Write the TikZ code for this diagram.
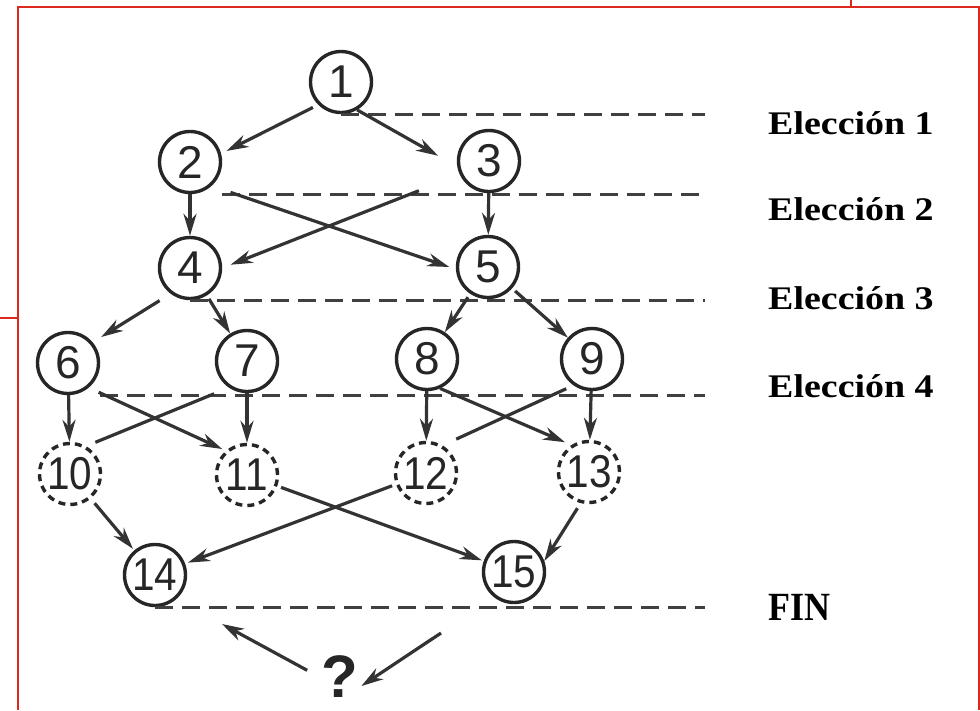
\documentclass[tikz,border=0pt]{standalone}
\usepackage{graphicx}
\usepackage{fontspec}
\setmainfont{Liberation Serif}
\newfontfamily\digitfont{Liberation Sans}
\newfontfamily\pairfont[FakeStretch=0.88]{Liberation Sans}
\newfontfamily\choicefont[FakeStretch=1.15]{Liberation Serif}
\newfontfamily\endfont[FakeStretch=0.9]{Liberation Serif}
\usetikzlibrary{positioning,calc,arrows.meta}
\definecolor{slidered}{RGB}{222,40,30}

\begin{document}
\begin{tikzpicture}[x=1pt, y=-1pt,
    >={Stealth[length=22pt, width=13pt, inset=7pt]},
    stage/.style={draw=black!85, circle, line width=3.4pt, minimum size=61pt, inner sep=0pt,
        text=black!85, font=\digitfont\fontsize{46}{46}\selectfont},
    pair/.style={font=\pairfont\fontsize{46}{46}\selectfont},
    future/.style={stage, pair, dash pattern=on 7pt off 5pt},
    link/.style={color=black!80, line width=3.2pt},
    rung/.style={draw=black!75, line width=3.4pt, dash pattern=on 18pt off 9pt},
    choice/.style={anchor=west, inner sep=0pt, text=black, font=\choicefont\bfseries\fontsize{33}{33}\selectfont},
    redline/.style={draw=slidered, line width=1.8pt}]

        \useasboundingbox (0,0) rectangle (980,710);

        %slide frame
        \draw[redline] (18,710) -- (18,7) -- (979,7) -- (979,710);
        \draw[redline] (0,318) -- (18,318);
        \draw[redline] (851,0) -- (851,7);

        %first choice
        \node[stage] (n1) at (341,82) {1};
        \node[stage] (n2) at (190,162) {2};
        \node[stage] (n3) at (489,161) {3};

        %second choice
        \node[stage] (n4) at ($(n2)+(0,106)$) {4};
        \node[stage] (n5) at (488,267) {5};

        %third choice
        \node[stage] (n6) at (68,363) {6};
        \node[stage] (n7) at (247,361) {7};
        \node[stage] (n8) at (427,359) {8};
        \node[stage] (n9) at (592,359) {9};

        %fourth choice, not reached yet
        \node[future] (n10) at (70,474) {10};
        \node[future] (n11) at (247,475) {11};
        \node[future] (n12) at (426,473) {12};
        \node[future] (n13) at (589,472) {13};

        %end
        \node[stage, pair] (n14) at (155,575) {14};
        \node[stage, pair] (n15) at (514,572) {15};
        \node[font=\digitfont\bfseries\fontsize{60}{60}\selectfont, text=black!85, inner sep=2pt] (q) at (340,677) {?};
        \coordinate (qa) at (222,624);
        \coordinate (qb) at (441,633);

        %levels
        \coordinate (rim) at (705,0);
        \draw[rung] (n1.south) -- (n1.south -| rim);
        \draw[rung] (n2.south -| n2.east) -- (n2.south -| rim);
        \draw[rung] (n4.south) -- (n4.south -| rim);
        \draw[rung] (n6.south -| n6.east) -- (n6.south -| rim);
        \draw[rung] (n14.south) -- (n14.south -| rim);

        \node[choice] (c1) at (768,123) {Elección 1};
        \node[choice] (c2) at (768,209) {Elección 2};
        \node[choice] (c3) at (768,298) {Elección 3};
        \node[choice] (c4) at (768,386) {Elección 4};
        \node[choice, font=\endfont\bfseries\fontsize{40}{40}\selectfont] (fin) at (768,607) {FIN};

        \path[link, ->]
            %from 1
            (n1.225) edge[shorten <=6pt, shorten >=6pt] (n2.15)
            (n1.-60) edge[shorten >=22pt] (n3.190)

            %from 2 and 3
            (n2) edge (n4)
            (n3) edge (n5)
            (n2.-48) edge[shorten <=20pt, shorten >=7pt] (n5.184)
            (n3.205) edge[shorten <=44pt, shorten >=9pt] (n4.east)

            %from 4 and 5
            (n4.233) edge[shorten <=13pt, shorten >=10pt] (n6.40)
            (n4) edge[shorten <=4pt] (n7)
            (n5) edge[shorten <=4pt] (n8)
            (n5) edge[shorten <=4pt] (n9)

            %from 6 to 9
            (n6) edge (n10)
            (n7) edge (n11)
            (n8) edge (n12)
            (n9) edge (n13)
            (n6.-50) edge[shorten <=11pt, shorten >=4pt] (n11.131)
            (n7.236) edge[-, shorten <=16pt, shorten >=10pt] (n10.60)
            (n8.-66) edge[shorten >=7pt] (n13.123)
            (n9.235) edge[-, shorten <=8pt, shorten >=15pt] (n12.59)

            %to the end
            (n10) edge[shorten <=6pt, shorten >=2pt] (n14)
            (n11) edge[shorten <=4pt, shorten >=2pt] (n15)
            (n12) edge[shorten <=4pt, shorten >=3pt] (n14)
            (n13.-105) edge[shorten <=6pt] (n15.20)

            %open question
            (q.west) edge[shorten <=14pt] (qa)
            (qb) edge[shorten >=1pt] (q.-25)
            ;

\end{tikzpicture}
\end{document}
